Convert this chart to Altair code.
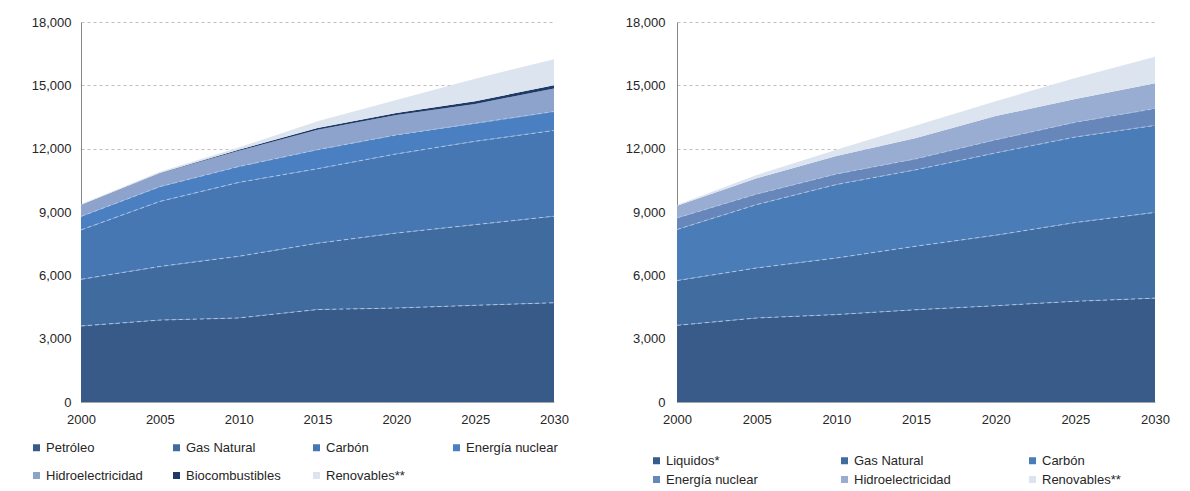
import altair as alt
import pandas as pd

years = [2000, 2005, 2010, 2015, 2020, 2025, 2030]
y_ticks = [0, 3000, 6000, 9000, 12000, 15000, 18000]

# ---- Left panel ----
left_series = ["Petróleo", "Gas Natural", "Carbón", "Energía nuclear",
               "Hidroelectricidad", "Biocombustibles", "Renovables**"]
left_colors = ["#375A88", "#3F6B9F", "#4677B3", "#4A80C2",
               "#8DA3CC", "#1F3A66", "#DCE4EF"]
petroleo = [3600, 3880, 3980, 4380, 4450, 4580, 4700]
gas_l = [2210, 2540, 2920, 3140, 3550, 3820, 4100]
carbon_l = [2340, 3080, 3500, 3530, 3750, 3950, 4060]
nuclear_l = [640, 700, 750, 900, 900, 850, 900]
hidro_l = [550, 630, 750, 950, 940, 920, 1090]
bio_l = [0, 20, 50, 80, 100, 130, 150]
renov_l = [30, 60, 100, 320, 620, 1060, 1240]
left_values = [petroleo, gas_l, carbon_l, nuclear_l, hidro_l, bio_l, renov_l]
left_dashed = ["Petróleo", "Gas Natural", "Carbón", "Energía nuclear"]

# ---- Right panel ----
right_series = ["Liquidos*", "Gas Natural", "Carbón", "Energía nuclear",
                "Hidroelectricidad", "Renovables**"]
right_colors = ["#385B89", "#416C9F", "#4A7CB8", "#6786BA",
                "#99ACD2", "#DCE4EF"]
liquidos = [3630, 3980, 4140, 4370, 4560, 4770, 4920]
gas_r = [2120, 2370, 2680, 3010, 3340, 3730, 4060]
carbon_r = [2420, 3000, 3480, 3620, 3900, 4050, 4120]
nuclear_r = [550, 500, 500, 520, 620, 700, 800]
hidro_r = [580, 750, 850, 980, 1130, 1100, 1200]
renov_r = [30, 150, 300, 600, 700, 1000, 1250]
right_values = [liquidos, gas_r, carbon_r, nuclear_r, hidro_r, renov_r]
right_dashed = ["Liquidos*", "Gas Natural", "Carbón", "Energía nuclear"]

FONT = "Liberation Sans"


def build_df(series, values):
    rows = []
    for i, (name, vals) in enumerate(zip(series, values)):
        for yr, v in zip(years, vals):
            rows.append({"year": yr, "serie": name, "valor": v, "orden": i})
    df = pd.DataFrame(rows).sort_values(["year", "orden"])
    df["top"] = df.groupby("year")["valor"].cumsum()
    return df


def panel(series, colors, values, dashed, width, ylabelpad, legend):
    df = build_df(series, values)
    xenc = alt.X("year:Q", title=None,
                 scale=alt.Scale(domain=[2000, 2030], nice=False, zero=False),
                 axis=alt.Axis(values=years, format="d", grid=False, ticks=False,
                               labelPadding=11, domainColor="#A6A6A6",
                               labelFontSize=13, labelColor="#262626",
                               labelFont=FONT, labelFlush=False))
    area = alt.Chart(df).mark_area(opacity=1, strokeWidth=0).encode(
        x=xenc,
        y=alt.Y("valor:Q", stack="zero", title=None,
                scale=alt.Scale(domain=[0, 18000], nice=False),
                axis=alt.Axis(values=y_ticks, format=",d", ticks=False,
                              gridDash=[3, 3], gridColor="#BFBFBF",
                              domainColor="#868686", labelPadding=ylabelpad,
                              labelFontSize=13, labelColor="#262626",
                              labelFont=FONT)),
        color=alt.Color("serie:N", scale=alt.Scale(domain=series, range=colors),
                        legend=legend),
        order=alt.Order("orden:Q"),
    )
    lines = alt.Chart(df[df["serie"].isin(dashed)]).mark_line(
        strokeDash=[4, 3], strokeWidth=1, color="#AFC5E6"
    ).encode(
        x=alt.X("year:Q", title=None),
        y=alt.Y("top:Q", title=None),
        detail="serie:N",
    )
    return alt.layer(area, lines).properties(width=width, height=380)


left_legend = alt.Legend(title=None, orient="none", legendX=-51, legendY=419,
                         direction="horizontal", columns=4, gridAlign="all",
                         columnPadding=27, rowPadding=14, symbolType="square",
                         symbolSize=49, symbolStrokeWidth=0, labelFontSize=13,
                         labelColor="#262626", labelFont=FONT, labelOffset=3,
                         padding=0)
right_legend = alt.Legend(title=None, orient="none", legendX=-27, legendY=432,
                          direction="horizontal", columns=3, gridAlign="all",
                          columnPadding=75, rowPadding=5, symbolType="square",
                          symbolSize=49, symbolStrokeWidth=0, labelFontSize=13,
                          labelColor="#262626", labelFont=FONT, labelOffset=3,
                          padding=0)

left = panel(left_series, left_colors, left_values, left_dashed, 473, 10, left_legend)
right = panel(right_series, right_colors, right_values, right_dashed, 478, 12, right_legend)

chart = alt.hconcat(left, right, spacing=123, bounds="flush").resolve_scale(
    color="independent"
).configure_view(stroke=None).properties(
    padding={"left": 22, "top": 8, "right": 5, "bottom": 0}
)

chart.save("out.html", embed_options={"renderer": "svg", "actions": False})
